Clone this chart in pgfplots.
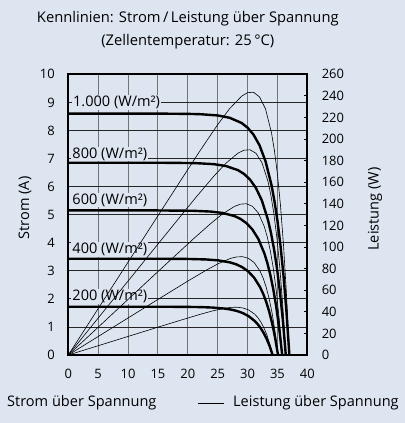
\documentclass[border=0pt]{standalone}
\usepackage{pgfplots}
\pgfplotsset{compat=1.18}
\usepackage{fontspec}
\setmainfont{Open Sans}
\definecolor{bgcol}{RGB}{221,229,240}
\newcommand{\tfont}{\fontsize{13}{15}\selectfont}
\newcommand{\lfont}{\fontsize{14.6}{17}\selectfont}
\begin{document}
\begin{tikzpicture}[x=1bp,y=1bp]
\fill[bgcol] (0,0) rectangle (405,-423);
\node[align=center,font=\fontsize{14.8}{23.4}\selectfont] at (187.8,-30) {Kennlinien: Strom\,/\,Leistung über Spannung\\(Zellentemperatur: 25\,°C)};
\node[rotate=90,font=\lfont] at (25,-208) {Strom (A)};
\node[rotate=90,font=\lfont] at (375,-209) {Leistung (W)};
\node[anchor=west,inner sep=0,font=\lfont] at (7,-403) {Strom über Spannung};
\draw[line width=0.6bp] (198,-403) -- (224,-403);
\node[anchor=west,inner sep=0,font=\lfont] at (233,-403) {Leistung über Spannung};
\begin{axis}[
  at={(68.3bp,-355bp)}, anchor=south west,
  width=239bp, height=280.7bp, scale only axis,
  xmin=0, xmax=40, ymin=0, ymax=10,
  xtick={0,5,...,40}, ytick={0,1,...,10},
  major tick length=0pt,
  xmajorgrids, ymajorgrids,
  x grid style={line width=0.9bp, black!55},
  y grid style={line width=0.8bp, black!85},
  axis line style={line width=1.8bp},
  /pgf/number format/assume math mode=true,
  tick label style={font=\tfont},
  xticklabel style={yshift=-11bp},
  yticklabel style={xshift=-10bp},
  clip=false,
]
% I-V curves (current in A)
\addplot[line width=2.4bp, black] coordinates {(0,8.6)(5,8.6)(10,8.6)(15,8.6)(20,8.59)(22,8.58)(25,8.535)(27,8.452)(29,8.267)(30,8.100)(31,7.850)(32,7.473)(33,6.908)(34,6.060)(34.5,5.488)(35,4.786)(35.5,3.926)(36,2.872)(36.5,1.582)(37,0)};
\addplot[line width=2.4bp, black] coordinates {(0,6.85)(5,6.85)(10,6.85)(15,6.85)(20,6.84)(21.4,6.835)(24.4,6.798)(26.4,6.732)(28.4,6.585)(29.4,6.452)(30.4,6.253)(31.4,5.953)(32.4,5.503)(33.4,4.827)(33.9,4.371)(34.4,3.812)(34.9,3.127)(35.4,2.288)(35.9,1.260)(36.4,0)};
\addplot[line width=2.4bp, black] coordinates {(0,5.15)(5,5.15)(10,5.15)(15,5.15)(20,5.14)(20.8,5.139)(23.8,5.111)(25.8,5.061)(27.8,4.951)(28.8,4.851)(29.8,4.701)(30.8,4.475)(31.8,4.137)(32.8,3.629)(33.3,3.286)(33.8,2.866)(34.3,2.351)(34.8,1.720)(35.3,0.947)(35.8,0)};
\addplot[line width=2.4bp, black] coordinates {(0,3.43)(5,3.43)(10,3.43)(15,3.43)(20.1,3.422)(23.1,3.404)(25.1,3.371)(27.1,3.297)(28.1,3.231)(29.1,3.131)(30.1,2.981)(31.1,2.755)(32.1,2.417)(32.6,2.189)(33.1,1.909)(33.6,1.566)(34.1,1.146)(34.6,0.631)(35.1,0)};
\addplot[line width=2.4bp, black] coordinates {(0,1.72)(5,1.72)(10,1.72)(15,1.72)(19.2,1.716)(22.2,1.707)(24.2,1.690)(26.2,1.653)(27.2,1.620)(28.2,1.570)(29.2,1.495)(30.2,1.382)(31.2,1.212)(31.7,1.098)(32.2,0.957)(32.7,0.785)(33.2,0.574)(33.7,0.316)(34.2,0)};
\node[fill=bgcol,anchor=west,inner sep=1bp,font=\lfont] at (axis cs:0.6,9) {1.000 (W/m²)};
\node[fill=bgcol,anchor=west,inner sep=1bp,font=\lfont] at (axis cs:0.5,7.16) {800 (W/m²)};
\node[fill=bgcol,anchor=west,inner sep=1bp,font=\lfont] at (axis cs:0.5,5.52) {600 (W/m²)};
\node[fill=bgcol,anchor=west,inner sep=1bp,font=\lfont] at (axis cs:0.5,3.77) {400 (W/m²)};
\node[fill=bgcol,anchor=west,inner sep=1bp,font=\lfont] at (axis cs:0.5,2.08) {200 (W/m²)};
\end{axis}
\begin{axis}[
  at={(68.3bp,-355bp)}, anchor=south west,
  width=239bp, height=280.7bp, scale only axis,
  xmin=0, xmax=40, ymin=0, ymax=260,
  axis x line=none, axis y line*=right,
  ytick={0,20,...,260},
  major tick length=3bp, tick align=inside,
  tick style={line width=0.8bp, black},
  axis line style={line width=1.8bp},
  /pgf/number format/assume math mode=true,
  tick label style={font=\tfont},
  yticklabel style={xshift=11bp},
]
% P-V curves (power in W)
\addplot[line width=0.6bp, black] coordinates {(0,0)(5,43)(10,86)(15,129)(20,171.8)(22,188.8)(25,213.4)(27,228.2)(29,239.7)(30,243.0)(31,243.4)(32,239.1)(33,228.0)(34,206.0)(34.5,189.3)(35,167.5)(35.5,139.4)(36,103.4)(36.5,57.7)(37,0)};
\addplot[line width=0.6bp, black] coordinates {(0,0)(5,34.25)(10,68.5)(15,102.75)(20,136.8)(21.4,146.3)(24.4,165.9)(26.4,177.7)(28.4,187.0)(29.4,189.7)(30.4,190.1)(31.4,186.9)(32.4,178.3)(33.4,161.2)(33.9,148.2)(34.4,131.1)(34.9,109.1)(35.4,81.0)(35.9,45.2)(36.4,0)};
\addplot[line width=0.6bp, black] coordinates {(0,0)(5,25.75)(10,51.5)(15,77.25)(20,102.8)(20.8,106.9)(23.8,121.6)(25.8,130.6)(27.8,137.6)(28.8,139.7)(29.8,140.1)(30.8,137.8)(31.8,131.6)(32.8,119.0)(33.3,109.4)(33.8,96.9)(34.3,80.6)(34.8,59.9)(35.3,33.4)(35.8,0)};
\addplot[line width=0.6bp, black] coordinates {(0,0)(5,17.15)(10,34.3)(15,51.45)(20.1,68.8)(23.1,78.6)(25.1,84.6)(27.1,89.4)(28.1,90.8)(29.1,91.1)(30.1,89.7)(31.1,85.7)(32.1,77.6)(32.6,71.4)(33.1,63.2)(33.6,52.6)(34.1,39.1)(34.6,21.8)(35.1,0)};
\addplot[line width=0.6bp, black] coordinates {(0,0)(5,8.6)(10,17.2)(15,25.8)(19.2,32.9)(22.2,37.9)(24.2,40.9)(26.2,43.3)(27.2,44.1)(28.2,44.3)(29.2,43.6)(30.2,41.7)(31.2,37.8)(31.7,34.8)(32.2,30.8)(32.7,25.7)(33.2,19.1)(33.7,10.6)(34.2,0)};
\end{axis}
\pgfresetboundingbox
\path (0,0) rectangle (405,-423);
\end{tikzpicture}
\end{document}
